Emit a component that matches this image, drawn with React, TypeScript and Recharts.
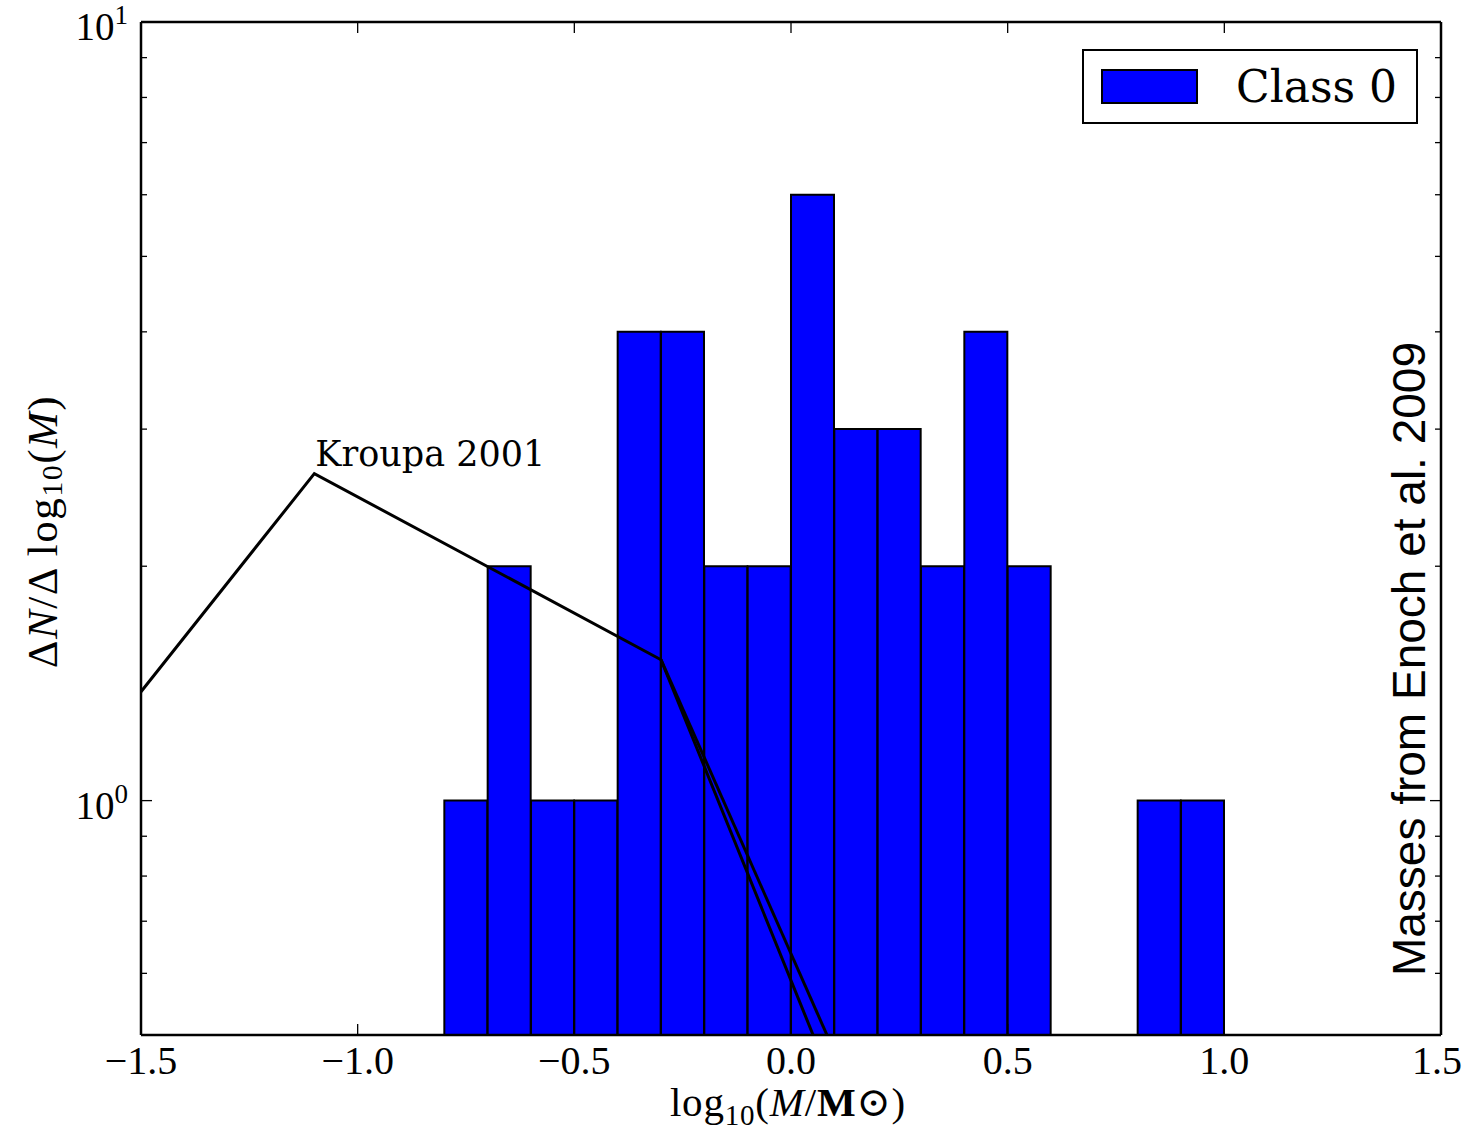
import React from 'react';
import { ComposedChart, Bar, Line, XAxis, YAxis, Legend, ReferenceDot } from 'recharts';

// histogram of log10(M) in 0.1 dex bins (bin centres)
const binCenters = [-0.75, -0.65, -0.55, -0.45, -0.35, -0.25, -0.15, -0.05, 0.05, 0.15, 0.25, 0.35, 0.45, 0.55, 0.85, 0.95];
const class0Counts = [1, 2, 1, 1, 4, 4, 2, 2, 6, 3, 3, 2, 4, 2, 1, 1];

// Kroupa 2001 IMF, broken power law (two high-mass slopes)
const kroupaX = [-1.5, -1.1, -0.3, 0.051];
const kroupaY = [1.38, 2.63, 1.517, 0.5];
const kroupaAltX = [-0.3, 0.083];
const kroupaAltY = [1.517, 0.5];

const xTicks = [-1.5, -1.0, -0.5, 0.0, 0.5, 1.0, 1.5];
const yTicks = [0.5, 0.6, 0.7, 0.8, 0.9, 1, 2, 3, 4, 5, 6, 7, 8, 9, 10];
const yMajor = [1, 10];

const histData = binCenters.map((x, i) => ({ x, n: class0Counts[i] }));
const kroupaData = kroupaX.map((x, i) => ({ x, y: kroupaY[i] }));
const kroupaAltData = kroupaAltX.map((x, i) => ({ x, y: kroupaAltY[i] }));

const SERIF = "'Liberation Serif', 'DejaVu Serif', serif";
const SCHOOLBOOK = "'DejaVu Serif', serif";
const SANS = "'Liberation Sans', 'DejaVu Sans', sans-serif";

const fmtX = (v: number) => v.toFixed(1).replace('-', '\u2212');

// ticks point into the plot, labels sit outside
const BottomTick = (props: any) => {
  const { x, y, payload } = props;
  // keep the last label inside the page edge
  const lx = payload.value === xTicks[xTicks.length - 1] ? x - 4 : x;
  return (
    <g>
      <line x1={x} y1={y} x2={x} y2={y - 11} stroke="#000" strokeWidth={1.3} />
      <text x={lx} y={y + 39} textAnchor="middle" fontFamily={SERIF} fontSize={40} fill="#000">
        {fmtX(payload.value)}
      </text>
    </g>
  );
};

const TopTick = (props: any) => {
  const { x, y } = props;
  return <line x1={x} y1={y} x2={x} y2={y + 11} stroke="#000" strokeWidth={1.3} />;
};

const LeftTick = (props: any) => {
  const { x, y, payload } = props;
  const major = yMajor.includes(payload.value);
  return (
    <g>
      <line x1={x} y1={y} x2={x + (major ? 11 : 6)} y2={y} stroke="#000" strokeWidth={1.3} />
      {major && (
        <text x={x - 13} y={y + 18} textAnchor="end" fontFamily={SERIF} fontSize={39} fill="#000">
          10
          <tspan dy={-16} fontSize={27}>
            {Math.round(Math.log10(payload.value))}
          </tspan>
        </text>
      )}
    </g>
  );
};

const RightTick = (props: any) => {
  const { x, y, payload } = props;
  const major = yMajor.includes(payload.value);
  return <line x1={x} y1={y} x2={x - (major ? 11 : 6)} y2={y} stroke="#000" strokeWidth={1.3} />;
};

const XLabel = (props: any) => {
  const vb = props.viewBox;
  return (
    <text x={vb.x + vb.width / 2 - 3} y={vb.y + 81} textAnchor="middle" fontFamily={SERIF} fontSize={41} letterSpacing={0.8} fill="#000">
      log
      <tspan fontSize={29} dy={9}>10</tspan>
      <tspan dy={-9}>(</tspan>
      <tspan fontStyle="italic">M</tspan>
      <tspan>/</tspan>
      <tspan fontWeight="bold">M</tspan>
      <tspan>{'\u2299)'}</tspan>
    </text>
  );
};

const YLabel = (props: any) => {
  const vb = props.viewBox;
  const cx = 42;
  const cy = vb.y + vb.height / 2 + 3;
  return (
    <text x={cx} y={cy} transform={`rotate(-90, ${cx}, ${cy})`} textAnchor="middle" dominantBaseline="central" fontFamily={SERIF} fontSize={43} letterSpacing={1.5} fill="#000">
      {'\u0394'}
      <tspan fontStyle="italic">N</tspan>
      <tspan>{'/\u0394 log'}</tspan>
      <tspan fontSize={30} dy={9}>10</tspan>
      <tspan dy={-9}>(</tspan>
      <tspan fontStyle="italic">M</tspan>
      <tspan>)</tspan>
    </text>
  );
};

const KroupaLabel = (props: any) => {
  const vb = props.viewBox;
  return (
    <text x={vb.x + 1} y={vb.y - 8} fontFamily={SCHOOLBOOK} fontSize={35} fill="#000">
      Kroupa 2001
    </text>
  );
};

const SourceLabel = (props: any) => {
  const vb = props.viewBox;
  const tx = vb.x + 16;
  const ty = vb.y;
  return (
    <text x={tx} y={ty} transform={`rotate(-90, ${tx}, ${ty})`} textAnchor="middle" fontFamily={SANS} fontSize={46} fill="#000">
      Masses from Enoch et al. 2009
    </text>
  );
};

const LegendBox = () => (
  <div
    style={{
      boxSizing: 'border-box',
      width: 336,
      height: 75,
      border: '2.5px solid #000',
      background: '#fff',
      display: 'flex',
      alignItems: 'center',
    }}
  >
    <div
      style={{
        boxSizing: 'border-box',
        width: 97,
        height: 35,
        marginLeft: 17,
        background: '#0000ff',
        border: '2px solid #000',
      }}
    />
    <span style={{ marginLeft: 38, fontFamily: SCHOOLBOOK, fontSize: 44, color: '#000', lineHeight: 1 }}>Class 0</span>
  </div>
);

export default function App() {
  return (
    <div style={{ position: 'absolute', left: 0, top: 0, background: '#fff' }}>
      <ComposedChart
        width={1465}
        height={1134}
        data={histData}
        margin={{ top: 21, right: 23, bottom: 98, left: 140 }}
        barCategoryGap={0}
        barGap={0}
      >
        <Bar dataKey="n" fill="#0000ff" stroke="#000" strokeWidth={2} isAnimationActive={false} />
        <Line xAxisId="top" data={kroupaData} dataKey="y" type="linear" stroke="#000" strokeWidth={3} dot={false} isAnimationActive={false} />
        <Line xAxisId="top" data={kroupaAltData} dataKey="y" type="linear" stroke="#000" strokeWidth={3} dot={false} isAnimationActive={false} />

        <XAxis
          dataKey="x"
          type="number"
          domain={[-1.5, 1.5]}
          ticks={xTicks}
          allowDataOverflow
          interval={0}
          height={1}
          tickSize={0}
          tickMargin={0}
          tickLine={false}
          tick={<BottomTick />}
          axisLine={{ stroke: '#000', strokeWidth: 2.5 }}
          label={XLabel}
        />
        <XAxis
          xAxisId="top"
          orientation="top"
          dataKey="x"
          type="number"
          domain={[-1.5, 1.5]}
          ticks={xTicks}
          allowDataOverflow
          interval={0}
          height={1}
          tickSize={0}
          tickMargin={0}
          tickLine={false}
          tick={<TopTick />}
          axisLine={{ stroke: '#000', strokeWidth: 2.5 }}
        />
        <YAxis
          type="number"
          scale="log"
          domain={[0.5, 10]}
          ticks={yTicks}
          allowDataOverflow
          interval={0}
          width={1}
          tickSize={0}
          tickMargin={0}
          tickLine={false}
          tick={<LeftTick />}
          axisLine={{ stroke: '#000', strokeWidth: 2.5 }}
          label={YLabel}
        />
        <YAxis
          yAxisId="right"
          orientation="right"
          type="number"
          scale="log"
          domain={[0.5, 10]}
          ticks={yTicks}
          allowDataOverflow
          interval={0}
          width={1}
          tickSize={0}
          tickMargin={0}
          tickLine={false}
          tick={<RightTick />}
          axisLine={{ stroke: '#000', strokeWidth: 2.5 }}
        />

        <ReferenceDot x={-1.1} y={2.63} r={0} stroke="none" label={KroupaLabel} />
        <ReferenceDot x={1.426} y={1.52} r={0} stroke="none" label={SourceLabel} />

        <Legend
          layout="horizontal"
          verticalAlign="middle"
          align="center"
          content={LegendBox}
          wrapperStyle={{ left: 1082, top: 49, width: 336, height: 75 }}
        />
      </ComposedChart>
    </div>
  );
}
